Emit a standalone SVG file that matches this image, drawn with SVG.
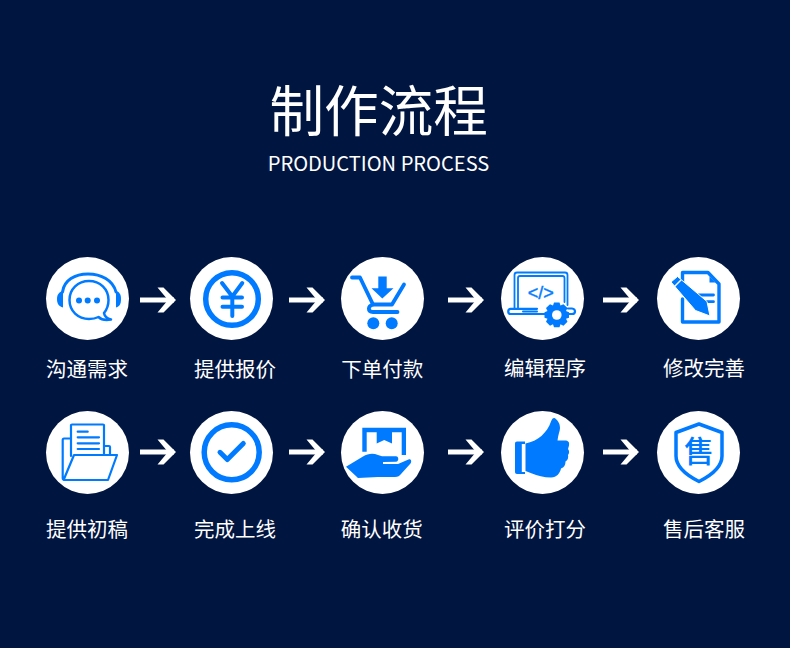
<svg xmlns="http://www.w3.org/2000/svg" width="790" height="648" viewBox="0 0 790 648">
<style>
.bg{fill:#00153f}
.disc{fill:#fff}
.t{font-family:"Noto Sans CJK SC","Noto Sans",sans-serif;fill:#fff;text-anchor:middle}
.lab{font-size:20.5px}
.b{fill:#007bff}
.s{fill:none;stroke:#007bff;stroke-linejoin:round;stroke-linecap:round}
.w{fill:#fff}
.arrow{fill:none;stroke:#fff;stroke-width:5}
</style>
<defs>
<g id="arr"><path d="M0 0H34" class="arrow"/><path d="M17.500 -12.500H23.500L36 0L23.500 12.500H17.500L28 0Z" fill="#fff"/></g>
</defs>
<rect class="bg" width="790" height="648"/>
<g id="heading">
<text class="t" x="378.700" y="131" font-size="54.600">制作流程</text>
<text class="t" x="378.500" y="171" font-size="20.100">PRODUCTION PROCESS</text>
</g>
<g id="connectors">
<use href="#arr" x="140" y="300"/><use href="#arr" x="289" y="300"/><use href="#arr" x="448" y="300"/><use href="#arr" x="603" y="300"/>
<use href="#arr" x="140" y="452"/><use href="#arr" x="289" y="452"/><use href="#arr" x="448" y="452"/><use href="#arr" x="603" y="452"/>
</g>
<g id="n1">
<circle class="disc" cx="87.500" cy="298.500" r="41.500"/>
<path class="s" stroke-width="3" d="M62.500 292C64 280 75 274 88 274C101 274 113 280 116 292"/>
<path class="b" d="M63 291V307.500C58.500 306.500 57 303 57 299C57 295 58.500 292 63 291Z"/>
<path class="b" d="M116 291V307.500C120 306.500 121 303 121 299C121 295 120 292 116 291Z"/>
<path class="s" stroke-width="2.500" d="M89 281C100 281 108.500 289 108.500 300C108.500 306 106.500 310 104 313C104.500 316 107 318.500 111 319.500C105 320.500 101 319.500 98.500 317C95.500 318.500 92.500 319 89 319C78 319 69.500 311 69.500 300C69.500 289 78 281 89 281Z"/>
<circle class="b" cx="79" cy="300.500" r="3"/><circle class="b" cx="87.700" cy="300.500" r="3"/><circle class="b" cx="97" cy="300.500" r="3"/>
</g>
<g id="n2">
<circle class="disc" cx="231.500" cy="298.500" r="41.500"/>
<circle class="s" cx="232" cy="299" r="26.300" stroke-width="5.500"/>
<path class="s" stroke-width="4" d="M222 283L232.300 296.500L242.300 283M222.500 297.500H242M222.500 306.700H242M232.300 297V316"/>
</g>
<g id="n3">
<circle class="disc" cx="382.500" cy="298.500" r="41.500"/>
<path class="s" stroke-width="3.800" stroke-linecap="butt" d="M352 277.500H360L373 304.500H392L404 284.500"/>
<path class="s" stroke-width="3.800" stroke-linecap="butt" d="M373 304.500C367.500 306 367.500 312 373 312H397.500"/>
<circle class="b" cx="373.300" cy="323.300" r="6"/><circle class="b" cx="391.700" cy="323.300" r="6"/>
<path class="b" d="M378.300 276.500H386.700V288.300H393.500L382.300 298.500L371.500 288.300H378.300Z"/>
</g>
<g id="n4">
<circle class="disc" cx="542.500" cy="298.500" r="41.500"/>
<path class="s" stroke-width="1.800" d="M514.500 308V275C514.500 273.500 515.500 272.500 517 272.500H565C566.500 272.500 567.500 273.500 567.500 275V305M518 308V278C518 276.500 518.500 276 520 276H562.500C564 276 564.500 276.500 564.500 278V302"/>
<path class="s" stroke-width="2.200" d="M510.500 308.800H537M510.500 308.800C507.500 309 507.500 314 510.500 314H545M568 308.500H572C576 309 576 314 572 314H569"/>
<path class="s" stroke-width="2" d="M523 311.500H537"/>
<text x="540.800" y="299" font-size="18" fill="#007bff" stroke="#007bff" stroke-width=".4" text-anchor="middle" font-family="'Liberation Sans',sans-serif">&lt;/&gt;</text>
<path class="b" d="M554 302.500H559.500L560.500 305.500L563.500 304.300L567.500 308L566 311L569 312.300V317.800L566 318.800L567.500 321.800L563.500 325.800L560.500 324.300L559.500 327.300H554L553 324.300L550 325.800L546 321.800L547.500 318.800L544.500 317.800V312.300L547.500 311L546 308L550 304.300L553 305.500Z"/>
<circle class="w" cx="556.800" cy="315" r="4.800"/>
</g>
<g id="n5">
<circle class="disc" cx="698.500" cy="298.500" r="41.500"/>
<path class="s" stroke-width="3.400" stroke-linejoin="miter" d="M682.500 287V272.500H708L719 284V322H682.500V299"/>
<path class="b" d="M709.500 276.500L715.500 282.500H709.500Z"/>
<path class="s" stroke-width="2.800" stroke-linecap="butt" d="M698 295H713.500M705 301.700H713.500"/>
<path d="M671 282L677.500 276.500L707 301.500L710 316L695.500 310.500Z" class="b" stroke="#fff" stroke-width="1"/>
<path d="M674.500 286.500L681 280" stroke="#fff" stroke-width="1.500" fill="none"/>
</g>
<g id="n6">
<circle class="disc" cx="87.500" cy="452.500" r="41.500"/>
<path class="s" stroke-width="2.200" d="M71 456V425C71 424.500 71.500 424.500 72 424.500H103C103.500 424.500 104 424.500 104 425V455"/>
<path class="s" stroke-width="2.200" d="M77.700 431.700H87.700M77.700 437.300H99M77.700 443.300H99M77.700 449H99"/>
<path class="s" stroke-width="2.200" d="M70 438.500H64C63 438.500 62.700 439 62.700 440V478C62.700 479.500 63.500 480 65 480H108L117 455H74L64 479M104.500 446H109C109.500 446 110 446.500 110 447V455"/>
</g>
<g id="n7">
<circle class="disc" cx="231.500" cy="452.500" r="41.500"/>
<circle class="s" cx="231.700" cy="452.300" r="27.500" stroke-width="5.500"/>
<path class="s" stroke-width="5" d="M220 452.300L227.300 459.500L243.300 443.500"/>
</g>
<g id="n8">
<circle class="disc" cx="382.500" cy="452.500" r="41.500"/>
<path class="b" d="M362.300 427.700H406V455H401.700V432.200H392V443.500L384.200 440L376.700 443.500V432.200H366.700V451.700H362.300Z"/>
<path class="b" d="M346 466.700L363 456.500C368 453.500 373 453 378 455L382 456.200H396C399 456.200 399 461.500 396 461.800L383 462V464H398L408.500 459.500C411 458.500 412 461.500 410.500 463.500L401 474C399.500 476 398 477 395 477H378L358 478Z"/>
</g>
<g id="n9">
<circle class="disc" cx="542.500" cy="452.500" r="41.500"/>
<path class="b" d="M517 441.500H525V444H521.800V472H525V474H517C515.800 474 515 473 515 472V443.500C515 442.300 515.800 441.500 517 441.500Z"/>
<path class="b" d="M525.500 443.500C538 441 547 433 551 421.500C552 418.500 553.500 417.500 554.500 418C557.500 420 560 423 560 428C560 431 558 435 557.500 440.500H566C569 441 569.500 443 569 445.500L568 449C569.500 451 569.500 453 568 455C568.500 457.500 568 460 565.500 461.500C565.500 465 564 467.500 561 468.500C560 473 557 477.500 551 477.500C544 477.500 537 475.500 532 473.500L525.500 471Z"/>
</g>
<g id="n10">
<circle class="disc" cx="698.500" cy="452.500" r="41.500"/>
<path class="s" stroke-width="3.500" stroke-linejoin="miter" d="M699 424L722 432.500V456C722 467 710 476 699 481.500C688 476 676 467 676 456V432.500Z"/>
<text x="699" y="462" font-size="30" font-weight="500" fill="#007bff" text-anchor="middle" font-family="'Noto Sans CJK SC',sans-serif">售</text>
</g>
<g id="labels">
<text class="t lab" x="87" y="377">沟通需求</text>
<text class="t lab" x="235" y="377">提供报价</text>
<text class="t lab" x="382.300" y="377">下单付款</text>
<text class="t lab" x="545" y="376">编辑程序</text>
<text class="t lab" x="704" y="376">修改完善</text>
<text class="t lab" x="87" y="537">提供初稿</text>
<text class="t lab" x="235" y="537">完成上线</text>
<text class="t lab" x="381.700" y="537">确认收货</text>
<text class="t lab" x="545" y="537">评价打分</text>
<text class="t lab" x="704" y="537">售后客服</text>
</g>
</svg>
